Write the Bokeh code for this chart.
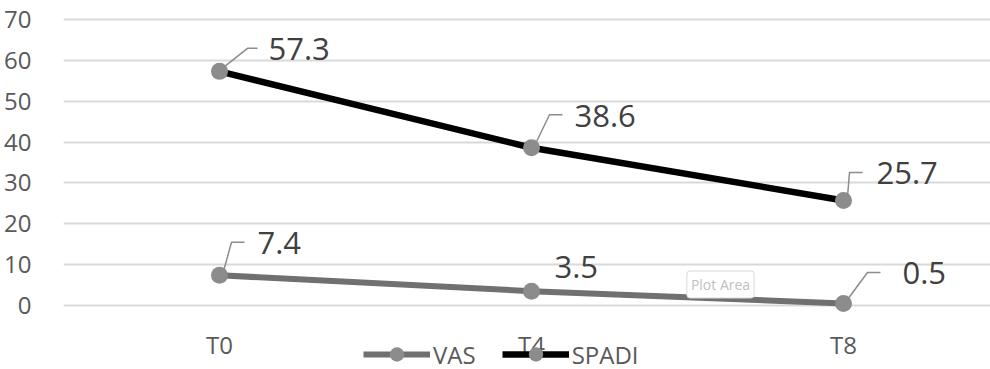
from bokeh.plotting import figure
from bokeh.models import (Range1d, FixedTicker, Legend, LegendItem, Label)
from bokeh.core.properties import value
from bokeh.embed import file_html
from bokeh.resources import INLINE

# ---- data ----
categories = ["T0", "T4", "T8"]
vas = [7.4, 3.5, 0.5]
spadi = [57.3, 38.6, 25.7]
y_ticks = [0, 10, 20, 30, 40, 50, 60, 70]

# ---- styling: label leader offsets in screen pixels (dx, dy up) ----
# (diag_end_dx, diag_end_dy, horiz_end_dx, text_dx, text_dy) ; None = no leader
spadi_offsets = [(28, 23, 38, 49, 22.5), (18, 33, 31, 43, 32), (6, 28, 19, 33, 27)]
vas_offsets = [(12, 33, 25, 38, 32), None, (24, 31, 37, 59, 30)]
vas_text_only = {1: (23, 24)}

FONT = "Open Sans"
W, H = 990, 369
LEFT = 63
PX_X = 312.0           # pixels per category
PX_Y = 4.086           # pixels per y unit
ZERO_Y = 305           # screen y of value 0
CAT_LABEL_Y = 343.5    # screen y of category label centres
LEGEND_GLYPH_H = 36
LEGEND_CY = 354        # screen y of legend centre

x_end = (W - LEFT) / PX_X
y_end = ZERO_Y / PX_Y
y_start = -(H - ZERO_Y) / PX_Y

xs = [i + 0.5 for i in range(len(categories))]

p = figure(width=W, height=H, output_backend="svg", toolbar_location=None,
           x_range=Range1d(0, x_end), y_range=Range1d(y_start, y_end),
           min_border_left=LEFT, min_border_right=0, min_border_top=0,
           min_border_bottom=0)
p.outline_line_color = None
p.background_fill_color = "white"
p.border_fill_color = "white"

# axes
p.xaxis.visible = False
p.yaxis.ticker = FixedTicker(ticks=y_ticks)
ax = p.yaxis[0]
ax.axis_line_color = None
ax.major_tick_line_color = None
ax.minor_tick_line_color = None
ax.major_label_text_font = FONT
ax.major_label_text_font_size = "24px"
ax.major_label_text_color = "#595959"
ax.major_label_standoff = 26

p.xgrid.grid_line_color = None
p.ygrid.ticker = FixedTicker(ticks=y_ticks)
p.ygrid.grid_line_color = "#d9d9d9"
p.ygrid.grid_line_width = 2

# category labels (drawn through the scales)
cat_y = (ZERO_Y - CAT_LABEL_Y) / PX_Y
p.text(xs, [cat_y] * len(xs), text=categories, text_font=value(FONT),
       text_font_size="24px", text_color="#595959", text_align="center",
       text_baseline="middle")

# series
vas_line = p.line(xs, vas, line_color="#707070", line_width=6)
vas_pts = p.scatter(xs, vas, size=17, fill_color="#8c8c8c", line_color=None)
sp_line = p.line(xs, spadi, line_color="black", line_width=6.5)
sp_pts = p.scatter(xs, spadi, size=17, fill_color="#8c8c8c", line_color=None)

# data labels with leaders
lead_xs, lead_ys, tx, ty, tt = [], [], [], [], []
def add_labels(vals, offsets, text_only=None):
    for i, (x, v) in enumerate(zip(xs, vals)):
        off = offsets[i]
        if off is None:
            dx, dy = text_only[i]
        else:
            ddx, ddy, hdx, dx, dy = off
            lead_xs.append([x + 4 / PX_X, x + ddx / PX_X, x + hdx / PX_X])
            lead_ys.append([v + 4 / PX_Y, v + ddy / PX_Y, v + ddy / PX_Y])
        tx.append(x + dx / PX_X)
        ty.append(v + dy / PX_Y)
        tt.append(str(v))

add_labels(spadi, spadi_offsets)
add_labels(vas, vas_offsets, vas_text_only)

p.multi_line(lead_xs, lead_ys, line_color="#8c8c8c", line_width=1.5)
p.text(tx, ty, text=tt, text_font=value(FONT), text_font_size="31px",
       text_color="#404040", text_align="left", text_baseline="middle")

# legend (location = bottom-left corner, measured up from the frame bottom)
legend = Legend(items=[LegendItem(label="VAS", renderers=[vas_line, vas_pts]),
                       LegendItem(label="SPADI", renderers=[sp_line, sp_pts])],
                orientation="horizontal",
                location=(300, H - (LEGEND_CY + LEGEND_GLYPH_H // 2)),
                glyph_width=67, glyph_height=LEGEND_GLYPH_H, label_standoff=3,
                spacing=26, padding=0, margin=0, border_line_color=None,
                background_fill_alpha=0,
                label_text_font=FONT, label_text_font_size="24px",
                label_text_color="#595959")
p.add_layout(legend, "center")

# hover tooltip artefact
p.add_layout(Label(x=720 - LEFT, y=H - 284, x_units="screen", y_units="screen",
                   text="Plot Area", text_font=FONT, text_font_size="14px",
                   text_color="#c0c0c0", text_align="center", text_baseline="middle",
                   background_fill_color="white", border_line_color="#d9d9d9",
                   padding=4, border_radius=3))

open("out.html", "w").write(file_html(p, INLINE))
